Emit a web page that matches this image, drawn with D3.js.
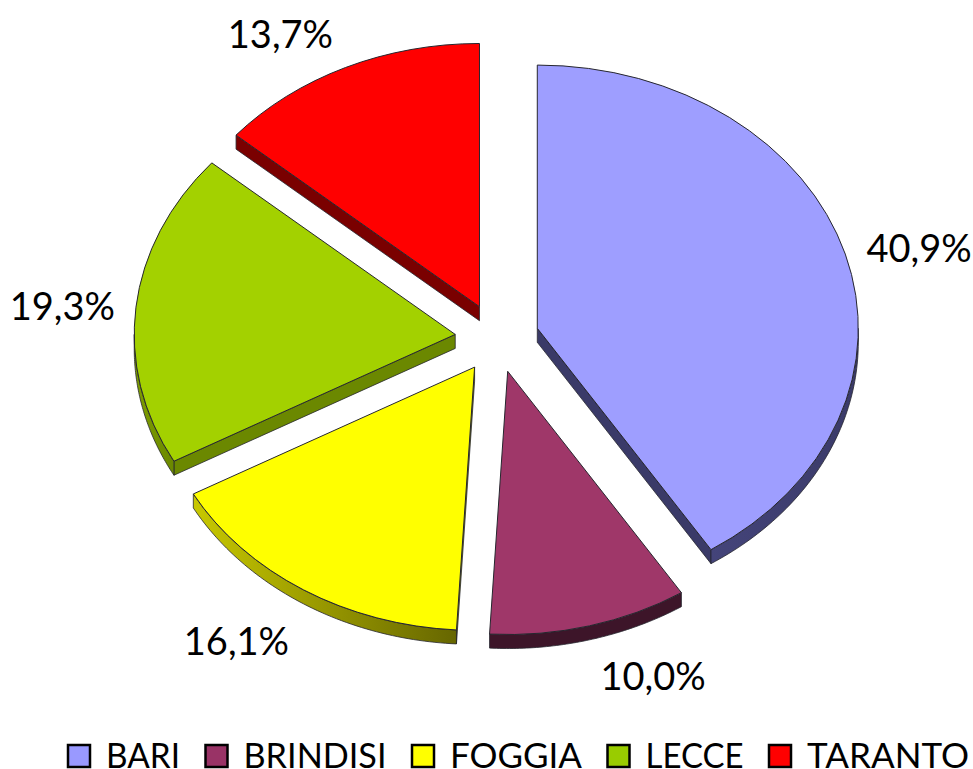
<!DOCTYPE html>
<html>
<head>
<meta charset="utf-8">
<script src="https://cdn.jsdelivr.net/npm/d3@7"></script>
<style>
  html, body { margin: 0; padding: 0; background: #fff; }
  svg { display: block; }
  text { font-family: Lato, sans-serif; fill: #000; }
</style>
</head>
<body>
<div id="chart"></div>
<script>
// Data
const provinces = ["BARI", "BRINDISI", "FOGGIA", "LECCE", "TARANTO"];
const shares = [40.9, 10.0, 16.1, 19.3, 13.7];

// Colours
const topColors = ["#9e9eff", "#9f3769", "#ffff00", "#a3d100", "#ff0000"];
const legendColors = ["#9999ff", "#993366", "#ffff00", "#99cc00", "#ff0000"];
const wallFrom = ["#44447a", "#3d1529", "#c8c800", "#7f9f00", "#7a0000"];
const wallTo = ["#3a3a68", "#3d1529", "#666600", "#6b8800", "#7a0000"];
const wallCut = ["#3a3a68", "#3d1529", "#a8a800", "#6b8800", "#7a0000"];

// Dimensions
const width = 973;
const height = 769;
const cx = 497;
const cy = 338;
const radius = 321;
const tilt = 0.82; // vertical squash of the pie
const depth = 14;
const explode = 42;
const labelRadius = 440;

const svg = d3
  .select("#chart")
  .append("svg")
  .attr("width", width)
  .attr("height", height)
  .attr("viewBox", [0, 0, width, height]);

const defs = svg.append("defs");

const pie = d3
  .pie()
  .sort(null)
  .value((d) => d.share);

const slices = pie(provinces.map((name, i) => ({ name, share: shares[i] })));

const arc = d3.arc().innerRadius(0).outerRadius(radius);

// Point on the squashed circle, relative to the slice apex
const px = (a, r) => r * Math.sin(a);
const py = (a, r) => -r * Math.cos(a) * tilt;

const mid = (d) => (d.startAngle + d.endAngle) / 2;

const pieLayer = svg.append("g").attr("transform", `translate(${cx},${cy})`);

const groups = pieLayer
  .selectAll("g.slice")
  .data(slices)
  .join("g")
  .attr("class", "slice")
  .attr(
    "transform",
    (d) => `translate(${px(mid(d), explode)},${py(mid(d), explode)})`
  );

// Side walls
const wallArea = d3
  .area()
  .x((a) => px(a, radius))
  .y0((a) => py(a, radius))
  .y1((a) => py(a, radius) + depth);

const stroke = "#26262e";

groups.each(function (d, i) {
  const g = d3.select(this);

  const gradId = `wall-${i}`;
  const grad = defs.append("linearGradient").attr("id", gradId);
  grad.append("stop").attr("offset", "0%").attr("stop-color", wallFrom[i]);
  grad.append("stop").attr("offset", "100%").attr("stop-color", wallTo[i]);

  // straight cut faces, only those turned toward the viewer
  const cuts = [];
  if (Math.sin(d.startAngle) < -1e-6) cuts.push(d.startAngle);
  if (Math.sin(d.endAngle) > 1e-6) cuts.push(d.endAngle);
  cuts.forEach((a) => {
    const x = px(a, radius);
    const y = py(a, radius);
    g.append("path")
      .attr("d", `M0,0L${x},${y}L${x},${y + depth}L0,${depth}Z`)
      .attr("fill", wallCut[i])
      .attr("stroke", stroke)
      .attr("stroke-width", 0.8);
  });

  // curved rim, front half of the circle only
  const a0 = Math.max(d.startAngle, Math.PI / 2);
  const a1 = Math.min(d.endAngle, (3 * Math.PI) / 2);
  if (a1 > a0) {
    const steps = d3.range(0, 61).map((k) => a0 + ((a1 - a0) * k) / 60);
    g.append("path")
      .attr("d", wallArea(steps))
      .attr("fill", `url(#${gradId})`)
      .attr("stroke", stroke)
      .attr("stroke-width", 0.8);
  }
});

// Top faces
groups
  .append("path")
  .attr("d", (d) => arc(d))
  .attr("transform", `scale(1,${tilt})`)
  .attr("fill", (d, i) => topColors[i])
  .attr("stroke", stroke)
  .attr("stroke-width", 1)
  .attr("vector-effect", "non-scaling-stroke")
  .attr("stroke-linejoin", "round");

// Percent labels (small nudges so they sit where the original has them)
const labelNudge = [
  [0, 12],
  [44, -10],
  [-26, -2],
  [3, 6],
  [-33, 25],
];

pieLayer
  .selectAll("text.pct")
  .data(slices)
  .join("text")
  .attr("class", "pct")
  .attr("x", (d, i) => px(mid(d), labelRadius) + labelNudge[i][0])
  .attr("y", (d, i) => py(mid(d), labelRadius) + labelNudge[i][1])
  .attr("dy", "0.35em")
  .attr("text-anchor", "middle")
  .style("font-size", "38px")
  .text((d) => d.data.share.toFixed(1).replace(".", ",") + "%");

// Legend
const legendX = 67;
const legendY = 744;
const boxSize = 24;
const boxGap = 15;
const itemGap = 24.5;
const legendTextWidths = [74, 143, 132, 98, 162];

const legend = svg.append("g").attr("class", "legend");
let cursor = legendX;

provinces.forEach((name, i) => {
  legend
    .append("rect")
    .attr("x", cursor + 1)
    .attr("y", legendY + 1)
    .attr("width", boxSize - 2)
    .attr("height", boxSize - 2)
    .attr("fill", legendColors[i])
    .attr("stroke", "#000")
    .attr("stroke-width", 2.5);

  legend
    .append("text")
    .attr("x", cursor + boxSize + boxGap)
    .attr("y", legendY + 24)
    .attr("textLength", legendTextWidths[i])
    .attr("lengthAdjust", "spacingAndGlyphs")
    .style("font-size", "34px")
    .text(name);

  cursor += boxSize + boxGap + legendTextWidths[i] + itemGap;
});
</script>
</body>
</html>
